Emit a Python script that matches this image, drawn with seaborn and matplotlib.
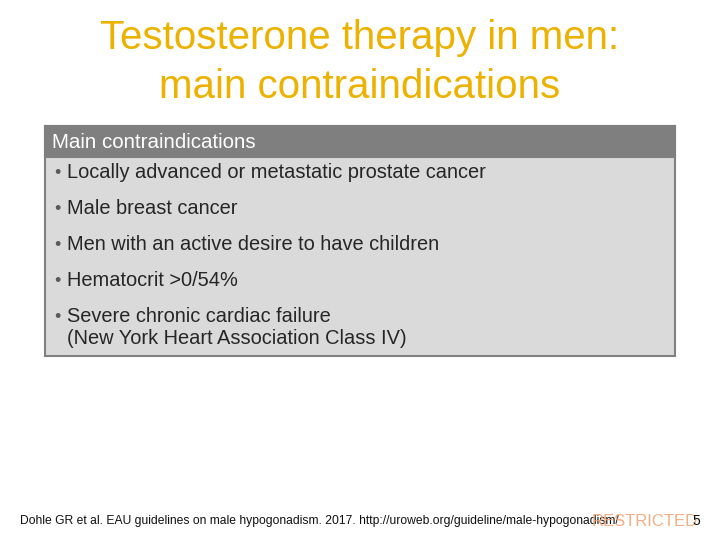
import matplotlib
matplotlib.use("Agg")
import matplotlib.pyplot as plt
import seaborn as sns
from matplotlib.patches import Rectangle

sns.set_theme(style="white")
plt.rcParams['font.family'] = ['Liberation Sans', 'DejaVu Sans']

title_lines = ["Testosterone therapy in men:", "main contraindications"]
header = "Main contraindications"
items = ["Locally advanced or metastatic prostate cancer",
         "Male breast cancer",
         "Men with an active desire to have children",
         "Hematocrit >0/54%",
         "Severe chronic cardiac failure\n(New York Heart Association Class IV)"]
item_y = [173, 209, 245, 281, 317]
footer = "Dohle GR et al. EAU guidelines on male hypogonadism. 2017. http://uroweb.org/guideline/male-hypogonadism/"

fig = plt.figure(figsize=(7.2, 5.4), dpi=100)
ax = fig.add_axes([0, 0, 1, 1])
ax.set_xlim(0, 720); ax.set_ylim(540, 0); ax.axis("off")

ax.text(360, 38, title_lines[0], ha="center", va="center", fontsize=29, color="#EDB100")
ax.text(360, 87, title_lines[1], ha="center", va="center", fontsize=29, color="#EDB100")

ax.add_patch(Rectangle((45, 126), 630, 230, facecolor="#DADADA", edgecolor="#808080", lw=1.5))
ax.add_patch(Rectangle((45, 126), 630, 31, facecolor="#7F7F7F", edgecolor="#7F7F7F", lw=1.5))
ax.text(52, 142, header, ha="left", va="center", fontsize=14.8, color="white")
for y, t in zip(item_y, items):
    ax.text(54, y, "•", ha="left", va="center", fontsize=13, color="#595959")
    if "\n" in t:
        ax.text(67, y - 10, t, ha="left", va="top", fontsize=14.4, color="#262626", linespacing=1.2)
    else:
        ax.text(67, y, t, ha="left", va="center", fontsize=14.4, color="#262626")

ax.text(20, 521, footer, ha="left", va="center", fontsize=8.7, color="#111111")
ax.text(592, 521, "RESTRICTED", ha="left", va="center", fontsize=12, color="#F0A070", alpha=0.85)
ax.text(692, 521, "5", ha="left", va="center", fontsize=10, color="#111111")

fig.savefig("out.png", dpi=100)
